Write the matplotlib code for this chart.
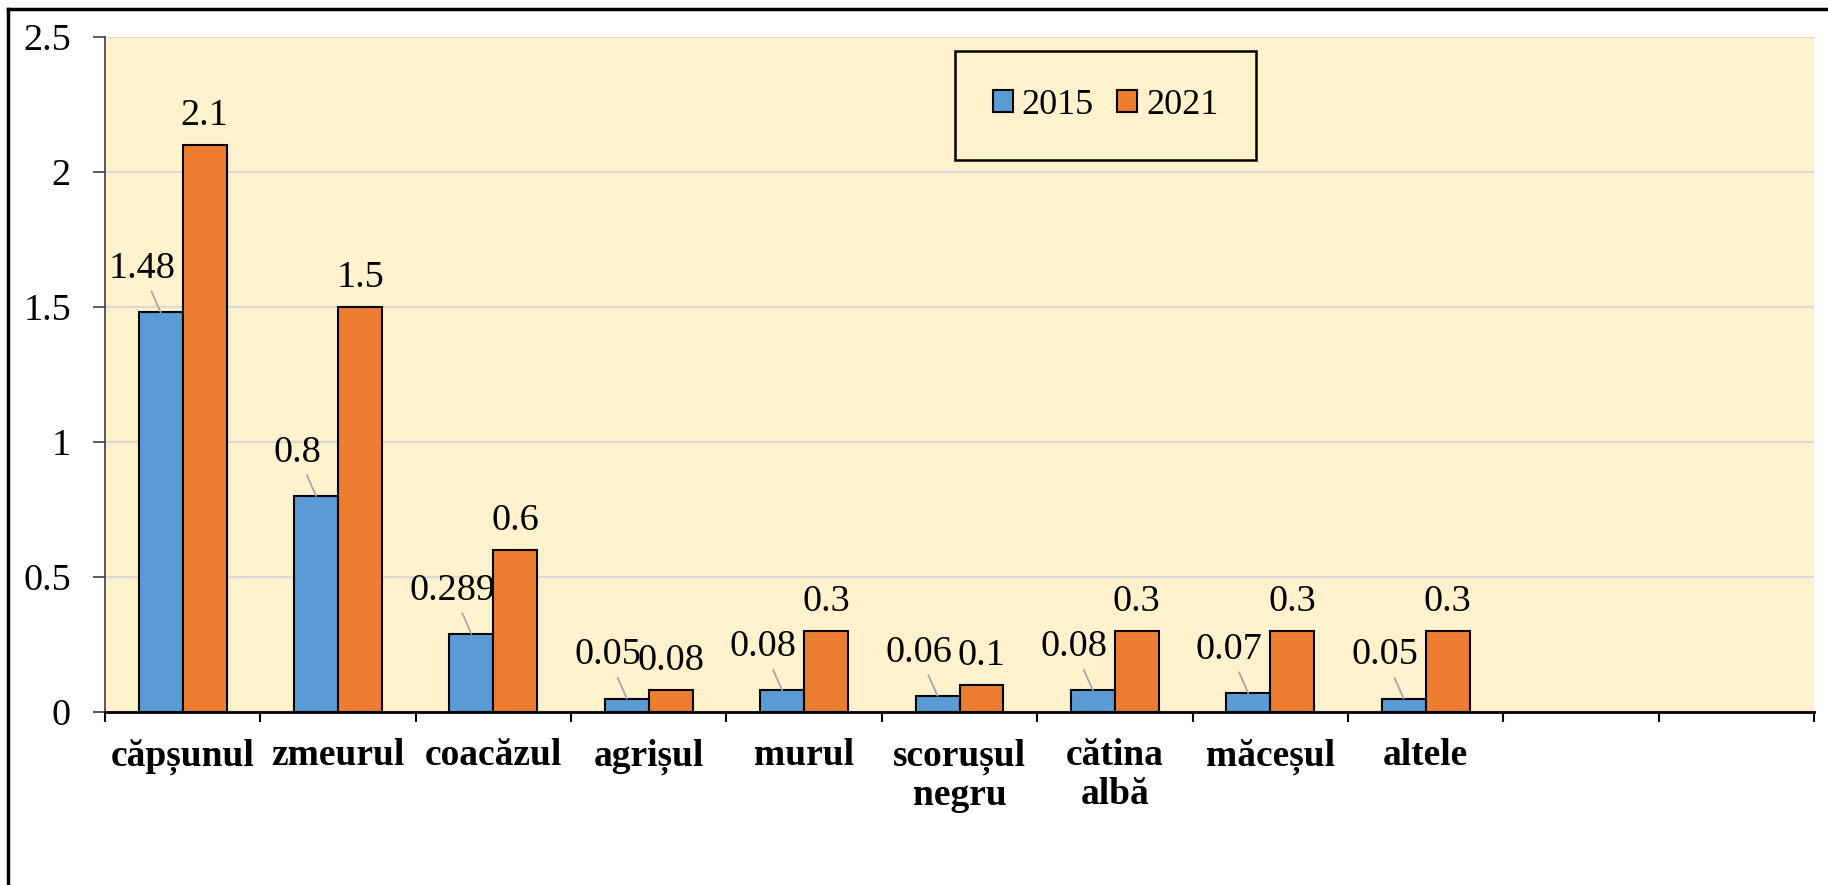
import matplotlib
matplotlib.use("Agg")
import matplotlib.pyplot as plt
from matplotlib.lines import Line2D
import numpy as np

categories = ["căpșunul", "zmeurul", "coacăzul", "agrișul", "murul",
              "scorușul\nnegru", "cătina\nalbă", "măceșul", "altele", "", ""]
years = ["2015", "2021"]
vals_2015 = [1.48, 0.8, 0.289, 0.05, 0.08, 0.06, 0.08, 0.07, 0.05]
vals_2021 = [2.1, 1.5, 0.6, 0.08, 0.3, 0.1, 0.3, 0.3, 0.3]
yticks = [0, 0.5, 1, 1.5, 2, 2.5]
ytick_labels = ["0", "0.5", "1", "1.5", "2", "2.5"]

blue = "#5B9BD5"
orange = "#ED7D31"
bg = "#FFF2CC"

plt.rcParams["font.family"] = ["Liberation Serif", "DejaVu Serif"]
plt.rcParams["font.size"] = 27.5

W, H = 1828, 885
fig = plt.figure(figsize=(W / 100, H / 100), dpi=100)
ax = fig.add_axes([105 / W, (H - 712) / H, 1709 / W, 675 / H])
ax.set_facecolor(bg)

bw = 0.283
x = np.arange(len(vals_2015))
b1 = ax.bar(x - bw / 2, vals_2015, bw, color=blue, edgecolor="black", linewidth=1.5, label=years[0], zorder=3)
b2 = ax.bar(x + bw / 2, vals_2021, bw, color=orange, edgecolor="black", linewidth=1.5, label=years[1], zorder=3)

# data labels
for xi, v in zip(x, vals_2015):
    ax.annotate(f"{v:g}", xy=(xi - bw / 2, v), xytext=(-19, 34), textcoords="offset pixels",
                ha="center", va="baseline", fontsize=27.5,
                arrowprops=dict(arrowstyle="-", color="#a6a6a6", lw=1.3, shrinkA=2, shrinkB=0),
                zorder=4)
for xi, v in zip(x, vals_2021):
    ax.annotate(f"{v:g}", xy=(xi + bw / 2, v), xytext=(0, 20), textcoords="offset pixels",
                ha="center", va="baseline", fontsize=27.5, zorder=4)

ax.set_xlim(-0.5, len(categories) - 0.5)
ax.set_ylim(0, 2.5)

ax.set_xticks(range(len(categories)))
ax.set_xticklabels(categories, fontweight="bold", fontsize=27, linespacing=1.12)
ax.set_xticks(np.arange(-0.5, len(categories), 1), minor=True)
ax.tick_params(axis="x", which="major", length=0, pad=19)
ax.tick_params(axis="x", which="minor", length=7.5, width=1.5, color="black")

ax.set_yticks(yticks)
ax.set_yticklabels(ytick_labels)
ax.tick_params(axis="y", length=8.5, width=1.2, pad=16, color="#404040")

ax.grid(axis="y", color="#d9d9d9", lw=1.6, zorder=0)
ax.set_axisbelow(True)
for s in ["top", "right"]:
    ax.spines[s].set_visible(False)
ax.spines["bottom"].set_linewidth(2)
ax.spines["bottom"].set_zorder(5)
ax.spines["left"].set_linewidth(1.2)
ax.spines["left"].set_color("#404040")

leg = ax.legend(loc="upper left", bbox_to_anchor=(955 / W, 1 - 51 / H), bbox_transform=fig.transFigure,
                ncol=2, frameon=True, fancybox=False, facecolor=bg, edgecolor="black",
                handlelength=0.55, handleheight=0.55, handletextpad=0.25, columnspacing=0.65,
                borderpad=1.05, borderaxespad=0, fontsize=26)
leg.get_frame().set_linewidth(1.8)
leg.get_frame().set_alpha(None)

# outer border of the picture
fig.add_artist(Line2D([8 / W, 1], [1 - 9 / H, 1 - 9 / H], color="black", lw=2.5))
fig.add_artist(Line2D([8 / W, 8 / W], [0, 1 - 9 / H], color="black", lw=2.5))

fig.savefig("out.png", dpi=100)
